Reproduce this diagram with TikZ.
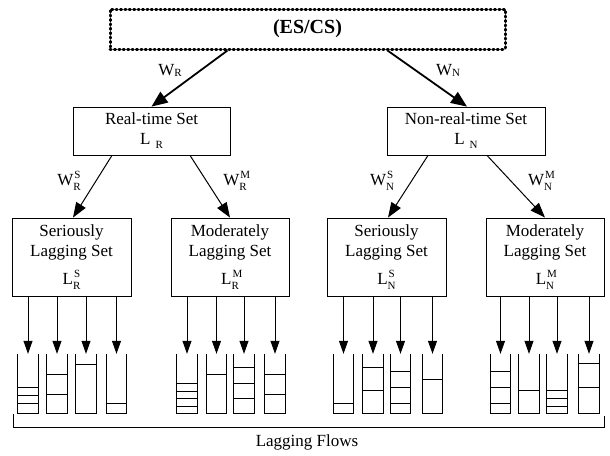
\documentclass[tikz,border=0pt]{standalone}
\usepackage{fontspec}
\setmainfont{Liberation Serif}
\usetikzlibrary{arrows.meta,calc}
\newcommand\smalltxt[1]{{\fontsize{11}{11}\selectfont #1}}
\newcommand\subsup[3]{#1\rlap{\hspace{1pt}\raisebox{7pt}{\smalltxt{#3}}}\raisebox{-5pt}{\smalltxt{#2}}}
\begin{document}
\begin{tikzpicture}[x=1pt,y=-1pt,
  box/.style={draw, line width=0.8pt, align=center, inner sep=0pt, font=\fontsize{17}{20}\selectfont},
  lbl/.style={inner sep=0pt, font=\fontsize{17}{20}\selectfont},
  bigarrow/.style={line width=1.8pt, -{Triangle[length=16pt,width=13pt]}},
  midarrow/.style={line width=1pt, -{Triangle[length=15pt,width=11pt]}},
  smallarrow/.style={line width=0.8pt, -{Triangle[length=13pt,width=9pt]}},
  queue/.style={minimum width=20pt, minimum height=59pt, inner sep=0pt},
  qline/.style={line width=0.8pt}]
\useasboundingbox (0,0) rectangle (610,455);
\node[draw, line width=3pt, dash pattern=on 1.2pt off 3.2pt, line cap=round,
      minimum width=395pt, minimum height=40pt, inner sep=0pt,
      font=\fontsize{20}{24}\selectfont\bfseries] (top) at (307.5,29) {(ES/CS)};
\node[box, minimum width=157pt, minimum height=48pt] (rt) at (151.5,131)
  {Real-time Set\\ L\hspace{5pt}\raisebox{-4pt}{\smalltxt{R}}};
\node[box, minimum width=158pt, minimum height=48pt] (nrt) at (466,131)
  {Non-real-time Set\\ L\hspace{5pt}\raisebox{-4pt}{\smalltxt{N}}};
\node[box, minimum width=119pt, minimum height=78pt] (rs) at (71.5,257)
  {Seriously\\Lagging Set\\[8pt]\subsup{L}{R}{S}};
\node[box, minimum width=118pt, minimum height=78pt] (rm) at (230,257)
  {Moderately\\Lagging Set\\[8pt]\subsup{L}{R}{M}};
\node[box, minimum width=119pt, minimum height=78pt] (ns) at (386.5,257)
  {Seriously\\Lagging Set\\[8pt]\subsup{L}{N}{S}};
\node[box, minimum width=118pt, minimum height=78pt] (nm) at (545,257)
  {Moderately\\Lagging Set\\[8pt]\subsup{L}{N}{M}};
\draw[bigarrow] ([xshift=-80pt]top.south) -- (rt.north);
\draw[bigarrow] ([xshift=80pt]top.south) -- ([xshift=1pt]nrt.north);
\draw[midarrow] ([xshift=-39.5pt]rt.south) -- ([xshift=1.5pt]rs.north);
\draw[midarrow] ([xshift=38.5pt]rt.south) -- (rm.north);
\draw[midarrow] ([xshift=-38pt]nrt.south) -- ([xshift=1.5pt]ns.north);
\draw[midarrow] ([xshift=21pt]nrt.south) -- (nm.north);
\node[lbl] (wr) at (170,70) {W\raisebox{-1pt}{\smalltxt{R}}};
\node[lbl] (wn) at (448,70) {W\raisebox{-1pt}{\smalltxt{N}}};
\node[lbl] (wrs) at (69,181) {\subsup{W}{R}{S}};
\node[lbl] (wrm) at (235,181) {\subsup{W}{R}{M}};
\node[lbl] (wns) at (382,181) {\subsup{W}{N}{S}};
\node[lbl] (wnm) at (540,181) {\subsup{W}{N}{M}};
\foreach \n/\b/\x/\ls in {
  a1/rs/28/{387,395,403}, a2/rs/57/{374,394}, a3/rs/86/{364}, a4/rs/116.5/{403},
  b1/rm/187/{383,391,398,406}, b2/rm/216.5/{374}, b3/rm/244/{367,383,398}, b4/rm/275/{374,394},
  c1/ns/343.5/{403}, c2/ns/373/{367,390}, c3/ns/400.5/{371,387,403}, c4/ns/432.5/{379},
  d1/nm/500.5/{371,387,403}, d2/nm/529/{390}, d3/nm/557/{390,398,406}, d4/nm/589/{363,387}}{
  \node[queue] (\n) at (\x,383.5) {};
  \draw[qline] (\n.north west) -- (\n.south west) -- (\n.south east) -- (\n.north east);
  \draw[smallarrow] (\b.south -| \n.north) -- (\n.north);
  \foreach \y in \ls {
    \draw[qline] (\n.west |- 0,\y) -- (\n.east |- 0,\y);
  }
}
\coordinate (bl) at (13,414);
\coordinate (br) at (604,416);
\draw[line width=0.8pt] (bl) -- (bl |- 0,427) -- (br |- 0,427) -- (br);
\node[lbl] (lf) at (307,442) {Lagging Flows};
\end{tikzpicture}
\end{document}
